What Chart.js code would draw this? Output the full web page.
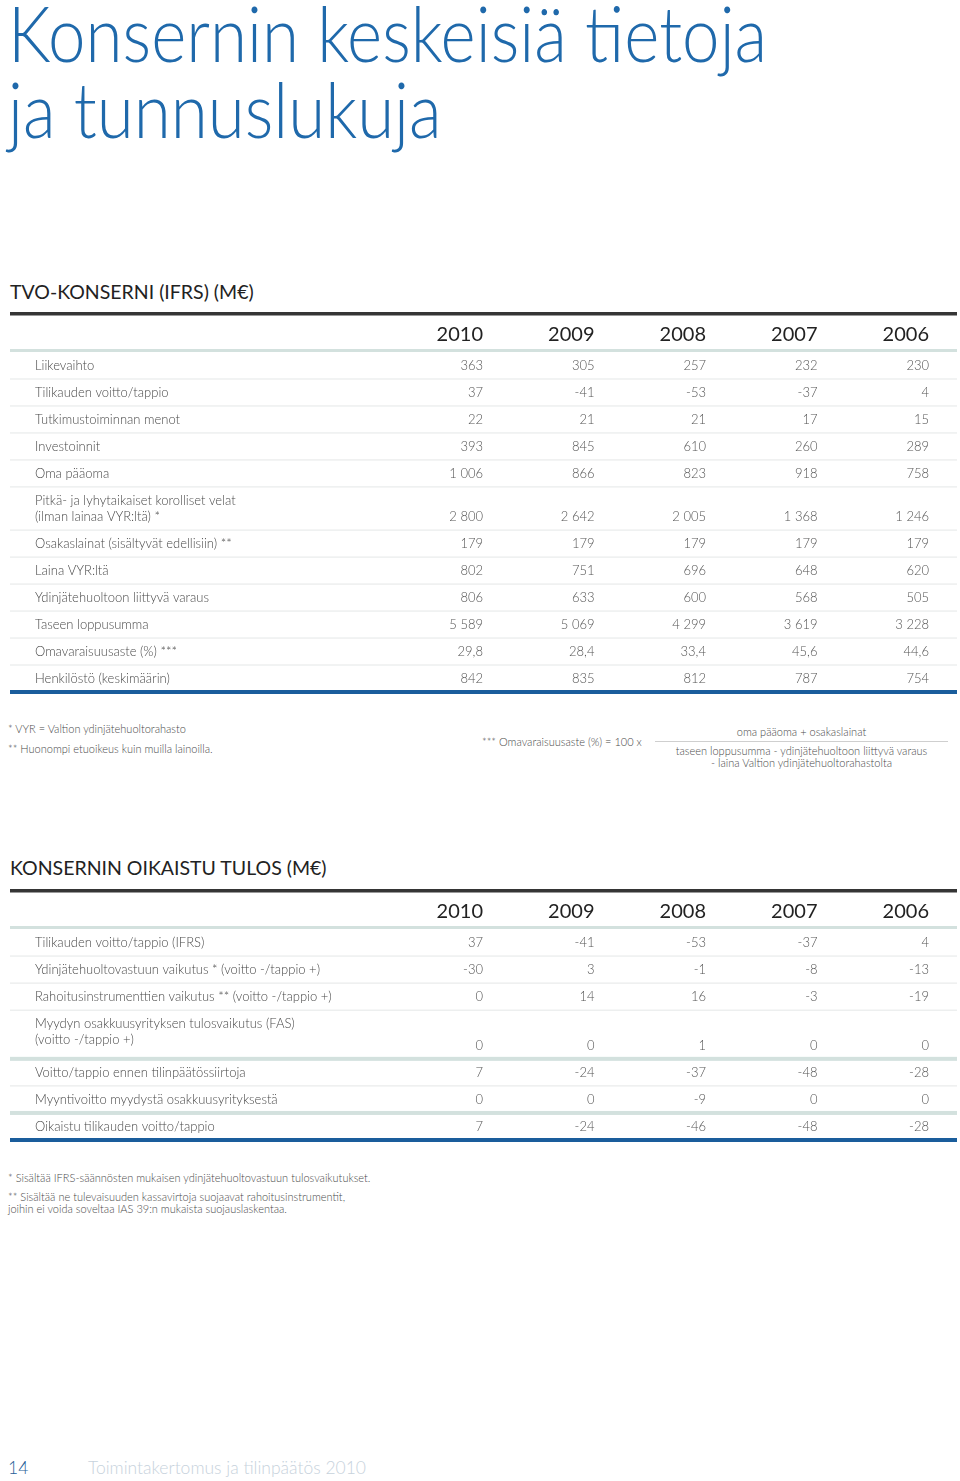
<!DOCTYPE html>
<html lang="fi">
<head>
<meta charset="utf-8">
<title>Konsernin keskeisiä tietoja ja tunnuslukuja</title>
<script src="https://cdn.jsdelivr.net/npm/chart.js@4.4.1/dist/chart.umd.min.js"></script>
<style>
  body { margin: 0; background: #fff; font-family: Lato, "Open Sans", sans-serif; }
  .page { position: relative; width: 960px; height: 1481px; overflow: hidden; }
  .title { position: absolute; left: 8px; font-size: 76px; line-height: 90px; font-weight: 300; color: #1f69ab; white-space: nowrap; transform: scaleX(0.885); transform-origin: left top; }
  .heading { position: absolute; left: 10px; font-size: 19.5px; line-height: 24px; color: #222; white-space: nowrap; }
  .note { position: absolute; font-size: 11px; line-height: 14px; font-weight: 300; color: #4a4a4a; white-space: nowrap; }
  .frac-line { position: absolute; left: 655px; top: 741px; width: 293px; height: 1px; background: #cfcfcf; }
  .chart-box { position: absolute; left: 0; }
  .footer { position: absolute; top: 1457px; font-size: 17.5px; line-height: 22px; font-weight: 300; white-space: nowrap; }
</style>
</head>
<body>
<div class="page">
  <div class="title" style="top:-12px">Konsernin keskeisiä tietoja</div>
  <div class="title" style="top:64px">ja tunnuslukuja</div>

  <div class="heading" style="top:280px">TVO-KONSERNI (IFRS) (M€)</div>
  <div class="chart-box" style="top:301px"><canvas id="tvoChart" width="960" height="400"></canvas></div>

  <div class="note" style="left:8px; top:722px">* VYR = Valtion ydinjätehuoltorahasto</div>
  <div class="note" style="left:8px; top:742px">** Huonompi etuoikeus kuin muilla lainoilla.</div>
  <div class="note" style="left:482px; top:735px">*** Omavaraisuusaste (%) = 100 x</div>
  <div class="note" style="left:655px; width:293px; top:725px; text-align:center">oma pääoma + osakaslainat</div>
  <div class="frac-line"></div>
  <div class="note" style="left:655px; width:293px; top:745px; text-align:center; line-height:12px">taseen loppusumma - ydinjätehuoltoon liittyvä varaus<br>- laina Valtion ydinjätehuoltorahastolta</div>

  <div class="heading" style="top:856px">KONSERNIN OIKAISTU TULOS (M€)</div>
  <div class="chart-box" style="top:878px"><canvas id="tulosChart" width="960" height="270"></canvas></div>

  <div class="note" style="left:8px; top:1171px">* Sisältää IFRS-säännösten mukaisen ydinjätehuoltovastuun tulosvaikutukset.</div>
  <div class="note" style="left:8px; top:1191px; line-height:12px">** Sisältää ne tulevaisuuden kassavirtoja suojaavat rahoitusinstrumentit,<br>joihin ei voida soveltaa IAS 39:n mukaista suojauslaskentaa.</div>

  <div class="footer" style="left:8px; color:#1f5f99">14</div>
  <div class="footer" style="left:88px; color:#c7d2dc">Toimintakertomus ja tilinpäätös 2010</div>
</div>

<script>
// Years shown in the column headers
const years = ['2010', '2009', '2008', '2007', '2006'];

// TVO-konserni (IFRS), M€
const tvoLabels = [
    'Liikevaihto',
    'Tilikauden voitto/tappio',
    'Tutkimustoiminnan menot',
    'Investoinnit',
    'Oma pääoma',
    'Pitkä- ja lyhytaikaiset korolliset velat\n(ilman lainaa VYR:ltä) *',
    'Osakaslainat (sisältyvät edellisiin) **',
    'Laina VYR:ltä',
    'Ydinjätehuoltoon liittyvä varaus',
    'Taseen loppusumma',
    'Omavaraisuusaste (%) ***',
    'Henkilöstö (keskimäärin)'
];
const tvoValues = [
    [363, 305, 257, 232, 230],
    [37, -41, -53, -37, 4],
    [22, 21, 21, 17, 15],
    [393, 845, 610, 260, 289],
    [1006, 866, 823, 918, 758],
    [2800, 2642, 2005, 1368, 1246],
    [179, 179, 179, 179, 179],
    [802, 751, 696, 648, 620],
    [806, 633, 600, 568, 505],
    [5589, 5069, 4299, 3619, 3228],
    [29.8, 28.4, 33.4, 45.6, 44.6],
    [842, 835, 812, 787, 754]
];
const tvoDecimals = [0, 0, 0, 0, 0, 0, 0, 0, 0, 0, 1, 0];

// Konsernin oikaistu tulos, M€
const tulosLabels = [
    'Tilikauden voitto/tappio (IFRS)',
    'Ydinjätehuoltovastuun vaikutus * (voitto -/tappio +)',
    'Rahoitusinstrumenttien vaikutus ** (voitto -/tappio +)',
    'Myydyn osakkuusyrityksen tulosvaikutus (FAS)\n(voitto -/tappio +)',
    'Voitto/tappio ennen tilinpäätössiirtoja',
    'Myyntivoitto myydystä osakkuusyrityksestä',
    'Oikaistu tilikauden voitto/tappio'
];
const tulosValues = [
    [37, -41, -53, -37, 4],
    [-30, 3, -1, -8, -13],
    [0, 14, 16, -3, -19],
    [0, 0, 1, 0, 0],
    [7, -24, -37, -48, -28],
    [0, 0, -9, 0, 0],
    [7, -24, -46, -48, -28]
];
const tulosDecimals = [0, 0, 0, 0, 0, 0, 0];

// Finnish number format: space as thousands separator, comma as decimal mark
function fmt(v, dec) {
    const parts = Math.abs(v).toFixed(dec).split('.');
    const whole = parts[0].replace(/\B(?=(\d{3})+(?!\d))/g, ' ');
    return (v < 0 ? '-' : '') + whole + (parts[1] ? ',' + parts[1] : '');
}

const colors = {
    dark: '#353535',
    teal: '#d3e1de',
    thin: '#e4e7e7',
    blue: '#1a5d9c',
    year: '#222',
    label: '#4a4a4a',
    value: '#555'
};

// Draws header, rows and rules of the table using the chart's x (years) and y (rows) scales
const tablePlugin = {
    id: 'tableCells',
    afterDraw(chart, args, opts) {
        const {ctx, chartArea} = chart;
        const x = chart.scales.x;
        const y = chart.scales.y;
        const band = x.getPixelForValue(1) - x.getPixelForValue(0);
        const colRight = i => x.getPixelForValue(i) + band / 2;
        const unit = y.getPixelForValue(1) - y.getPixelForValue(0);
        const left = opts.edgeLeft;
        const width = opts.edgeRight - opts.edgeLeft;

        ctx.save();
        // top rule + years + teal rule
        ctx.fillStyle = colors.dark;
        ctx.fillRect(left, chartArea.top - 40, width, 3.5);
        ctx.font = '20px Lato';
        ctx.fillStyle = colors.year;
        ctx.textAlign = 'right';
        ctx.textBaseline = 'alphabetic';
        years.forEach((yr, i) => ctx.fillText(yr, colRight(i), chartArea.top - 11));
        ctx.fillStyle = colors.teal;
        ctx.fillRect(left, chartArea.top - 3, width, 3);

        let start = 0;
        opts.labels.forEach((label, r) => {
            const lines = label.split('\n');
            const h = opts.heights[r];
            const top = y.getPixelForValue(start);
            const bottom = y.getPixelForValue(start + h);

            ctx.textBaseline = 'middle';
            ctx.font = '300 13px Lato';
            ctx.fillStyle = colors.label;
            ctx.textAlign = 'left';
            lines.forEach((ln, k) => ctx.fillText(ln, opts.labelX, top + unit / 2 + k * 16));

            ctx.fillStyle = colors.value;
            ctx.textAlign = 'right';
            opts.values[r].forEach((v, i) => {
                ctx.fillText(fmt(v, opts.decimals[r]), colRight(i), bottom - unit / 2);
            });

            const sep = opts.separators[r];
            if (sep === 'thin') {
                ctx.fillStyle = colors.thin;
                ctx.fillRect(left, bottom - 0.5, width, 1);
            } else if (sep === 'teal') {
                ctx.fillStyle = colors.teal;
                ctx.fillRect(left, bottom - 2, width, 4);
            } else if (sep === 'blue') {
                ctx.fillStyle = colors.blue;
                ctx.fillRect(left, bottom - 2, width, 4);
            }
            start += h;
        });
        ctx.restore();
    }
};

function makeTable(canvasId, labels, values, decimals, separators, extraLine, bottomPad) {
    const heights = labels.map(l => 1 + (l.split('\n').length - 1) * extraLine);
    const total = heights.reduce((a, b) => a + b, 0);
    return new Chart(document.getElementById(canvasId), {
        type: 'line',
        data: {
            labels: years,
            datasets: []
        },
        options: {
            responsive: false,
            animation: false,
            layout: {
                padding: { left: 371.5, right: 31, top: 51, bottom: bottomPad }
            },
            plugins: {
                legend: { display: false },
                tooltip: { enabled: false },
                tableCells: {
                    labels: labels,
                    values: values,
                    decimals: decimals,
                    heights: heights,
                    separators: separators,
                    labelX: 35,
                    edgeLeft: 10,
                    edgeRight: 957
                }
            },
            scales: {
                x: { type: 'category', offset: true, display: false },
                y: { type: 'linear', reverse: true, min: 0, max: total, display: false }
            }
        },
        plugins: [tablePlugin]
    });
}

makeTable('tvoChart', tvoLabels, tvoValues, tvoDecimals,
    ['thin', 'thin', 'thin', 'thin', 'thin', 'thin', 'thin', 'thin', 'thin', 'thin', 'thin', 'blue'],
    0.6, 9);
makeTable('tulosChart', tulosLabels, tulosValues, tulosDecimals,
    ['thin', 'thin', 'thin', 'teal', 'thin', 'teal', 'blue'],
    0.8, 8);
</script>
</body>
</html>
